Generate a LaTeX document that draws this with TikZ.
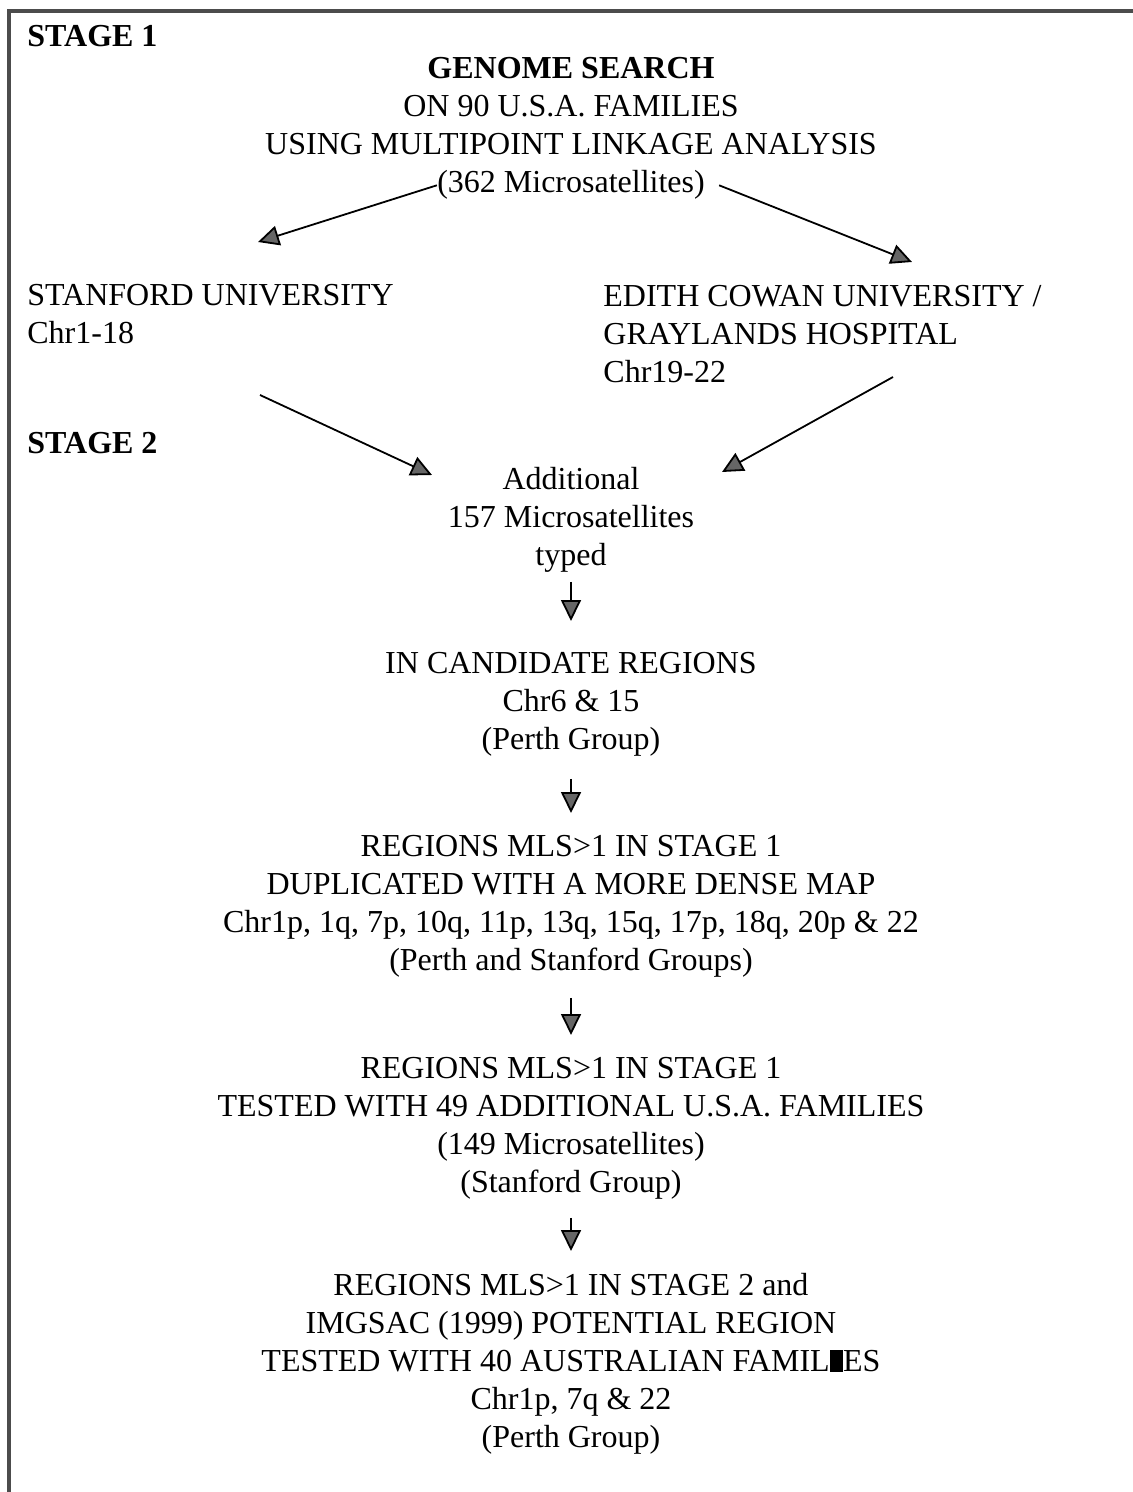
\documentclass[tikz,border=0pt]{standalone}
\usepackage{fontspec}
\setmainfont{Liberation Serif}
\usetikzlibrary{arrows.meta}

\begin{document}
\begin{tikzpicture}[x=0.5pt,y=-0.5pt,
		txt/.style={font=\fontsize{16}{19}\selectfont, align=center, inner sep=0pt},
		hd/.style={font=\fontsize{16}{19}\selectfont\bfseries, inner sep=0pt},
		arr/.style={line width=0.9pt, -{Triangle[length=10.5pt,width=10pt,fill=black!60]}}]
			\useasboundingbox (0,0) rectangle (1133,1492);
			% frame (top and left only)
			\draw[line width=1.6pt, black!70] (1133,11) -- (9,11) -- (9,1492);
			
			\node[hd, anchor=base west] (stage1) at (27,47) {STAGE 1};
			\node[hd, anchor=base west] (stage2) at (27,453) {STAGE 2};
			
			\node[txt, anchor=north] (genome) at (571,57) {\textbf{GENOME SEARCH}\\ON 90 U.S.A. FAMILIES\\USING MULTIPOINT LINKAGE ANALYSIS};
			\node[txt, anchor=base] (micro) at (571,193) {(362 Microsatellites)};
			
			\node[txt, align=left, anchor=north west] (stanford) at (27,284) {STANFORD UNIVERSITY\\Chr1-18};
			\node[txt, align=left, anchor=north west] (edith) at (603,285) {EDITH COWAN UNIVERSITY /\\GRAYLANDS HOSPITAL\\Chr19-22};
			
			\node[txt, anchor=north] (added) at (571,467) {Additional\\157 Microsatellites\\typed};
			\node[txt, anchor=north] (cand) at (571,652) {IN CANDIDATE REGIONS\\Chr6 \& 15\\(Perth Group)};
			\node[txt, anchor=north] (dup) at (571,835) {REGIONS MLS>1 IN STAGE 1\\DUPLICATED WITH A MORE DENSE MAP\\Chr1p, 1q, 7p, 10q, 11p, 13q, 15q, 17p, 18q, 20p \& 22\\(Perth and Stanford Groups)};
			\node[txt, anchor=north] (tested) at (571,1057) {REGIONS MLS>1 IN STAGE 1\\TESTED WITH 49 ADDITIONAL U.S.A. FAMILIES\\(149 Microsatellites)\\(Stanford Group)};
			\node[txt, anchor=north] (aus) at (571,1273) {REGIONS MLS>1 IN STAGE 2 and\\IMGSAC (1999) POTENTIAL REGION\\TESTED WITH 40 AUSTRALIAN FAMIL\rule{0.42em}{0.662em}ES\\Chr1p, 7q \& 22\\(Perth Group)};
			
			% free ends of the slanted arrows
			\coordinate (lt) at (258,242);
			\coordinate (rt) at (912,262);
			\coordinate (sa) at (260,395);
			\coordinate (ea) at (893,377);
			\coordinate (la) at (432,475);
			\coordinate (ra) at (722,472);
			
			\draw[arr] (micro.west) -- (lt);
			\draw[arr] ([xshift=7pt]micro.east) -- (rt);
			\draw[arr] (sa) -- (la);
			\draw[arr] (ea) -- (ra);
			
			\draw[arr] ([yshift=-4.5pt]added.south) -- ([yshift=15.5pt]cand.north);
			\draw[arr] ([yshift=-11pt]cand.south) -- ([yshift=11pt]dup.north);
			\draw[arr] ([yshift=-10pt]dup.south) -- ([yshift=11pt]tested.north);
			\draw[arr] ([yshift=-9pt]tested.south) -- ([yshift=11pt]aus.north);
		\end{tikzpicture}
\end{document}
